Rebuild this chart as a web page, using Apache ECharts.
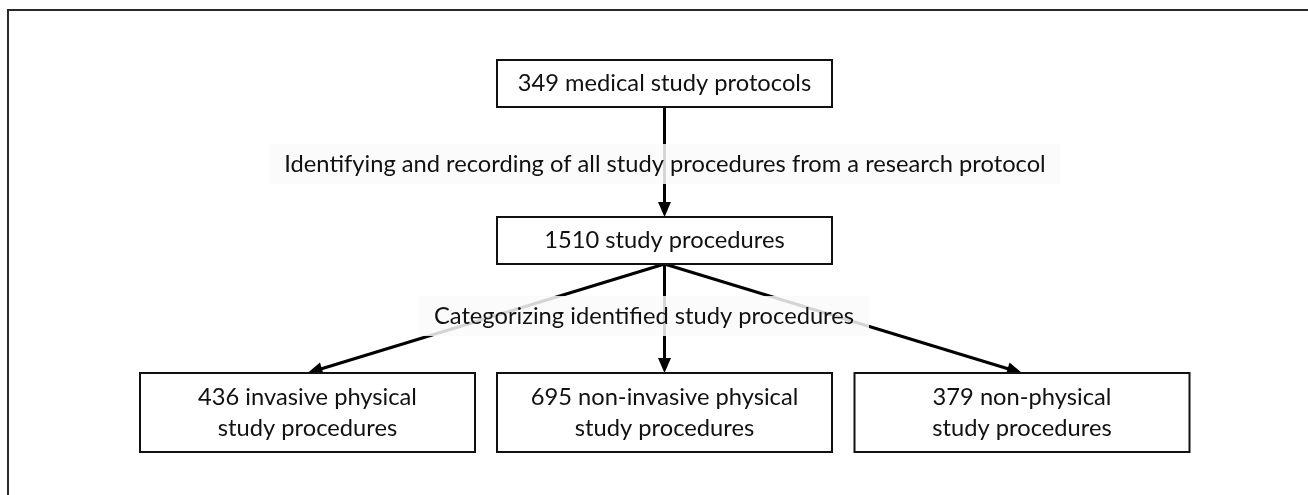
<!DOCTYPE html>
<html lang="en">
	<head>
		<meta charset="UTF-8">
		<title>Study procedures flowchart</title>
		<script src="https://cdn.jsdelivr.net/npm/echarts@6/dist/echarts.min.js"></script>
		<style>
			html, body { margin: 0; padding: 0; background: #fff; }
			#chart { width: 1308px; height: 495px; }
		</style>
	</head>
	<body>
		<div id="chart"></div>
		<script>
			// flowchart content
			var nodeNames = [
				'349 medical study protocols',
				'1510 study procedures',
				'436 invasive physical\nstudy procedures',
				'695 non-invasive physical\nstudy procedures',
				'379 non-physical\nstudy procedures'
			];
			var nodeLevel = [0, 1, 2, 2, 2];
			var nodeCol = [1, 1, 0, 1, 2];
			var edgeFrom = [0, 1, 1, 1];
			var edgeTo = [1, 2, 3, 4];
			var stepNames = [
				'Identifying and recording of all study procedures from a research protocol',
				'Categorizing identified study procedures'
			];

			// layout (page units)
			var colCenter = [307.5, 664.5, 1022];
			var levelTop = [60, 217, 373];
			var levelHeight = [47, 47, 79];
			var boxWidth = 335;
			var stepPos = [[665, 164], [644, 316]];
			var arrowLen = 15, arrowHalf = 6.5;

			var chart = echarts.init(document.getElementById('chart'));

			var boxData = nodeNames.map(function (n, i) {
				return [colCenter[nodeCol[i]], levelTop[nodeLevel[i]], boxWidth, levelHeight[nodeLevel[i]]];
			});

			// edge: bottom centre of source box -> top centre of target box
			var edgeData = edgeFrom.map(function (f, k) {
				var t = edgeTo[k];
				return [
					colCenter[nodeCol[f]], levelTop[nodeLevel[f]] + levelHeight[nodeLevel[f]],
					colCenter[nodeCol[t]], levelTop[nodeLevel[t]]
				];
			});

			var font = '23.7px Lato, "Open Sans", sans-serif';
			var measure = document.createElement('canvas').getContext('2d');
			measure.font = font;

			var option = {
				animation: false,
				grid: { left: 0, right: 0, top: 0, bottom: 0 },
				xAxis: { type: 'value', min: 0, max: 1308, show: false },
				yAxis: { type: 'value', min: 0, max: 495, inverse: true, show: false },
				graphic: [{
					type: 'rect',
					shape: { x: 8, y: 10, width: 1400, height: 600 },
					style: { fill: 'none', stroke: '#2a2a2a', lineWidth: 2 },
					silent: true
				}],
				series: [{
					type: 'custom',
					z: 1,
					clip: false,
					data: edgeData,
					renderItem: function (params, api) {
						var a = api.coord([api.value(0), api.value(1)]);
						var b = api.coord([api.value(2), api.value(3)]);
						var dx = b[0] - a[0], dy = b[1] - a[1], d = Math.sqrt(dx * dx + dy * dy);
						var ux = dx / d, uy = dy / d;
						var bx = b[0] - ux * arrowLen, by = b[1] - uy * arrowLen;
						return {
							type: 'group',
							children: [{
								type: 'line',
								shape: { x1: a[0], y1: a[1], x2: bx + ux * 2, y2: by + uy * 2 },
								style: { stroke: '#000', lineWidth: 3 }
							}, {
								type: 'polygon',
								shape: { points: [
									[b[0], b[1]],
									[bx - uy * arrowHalf, by + ux * arrowHalf],
									[bx + uy * arrowHalf, by - ux * arrowHalf]
								] },
								style: { fill: '#000' }
							}]
						};
					}
				}, {
					type: 'custom',
					z: 3,
					clip: false,
					data: boxData,
					renderItem: function (params, api) {
						var i = params.dataIndex;
						var cx = api.value(0), top = api.value(1), w = api.value(2), h = api.value(3);
						var p0 = api.coord([cx - w / 2, top]);
						var p1 = api.coord([cx + w / 2, top + h]);
						return {
							type: 'rect',
							shape: { x: p0[0], y: p0[1], width: p1[0] - p0[0], height: p1[1] - p0[1] },
							style: { fill: '#fff', stroke: '#111', lineWidth: 2 },
							textContent: {
								style: {
									text: nodeNames[i], font: font, fill: '#111',
									align: 'center', verticalAlign: 'middle', lineHeight: 31
								}
							},
							textConfig: { position: 'inside' }
						};
					}
				}, {
					type: 'custom',
					z: 5,
					clip: false,
					data: stepPos,
					renderItem: function (params, api) {
						var p = api.coord([api.value(0), api.value(1)]);
						var txt = stepNames[params.dataIndex];
						var w = measure.measureText(txt).width + 30;
						return {
							type: 'group',
							children: [{
								type: 'rect',
								shape: { x: p[0] - w / 2, y: p[1] - 20, width: w, height: 40 },
								style: { fill: 'rgba(250,250,250,0.85)' }
							}, {
								type: 'text',
								x: p[0], y: p[1],
								style: {
									text: txt, font: font, fill: '#111',
									align: 'center', verticalAlign: 'middle'
								}
							}]
						};
					}
				}]
			};
			chart.setOption(option);
		</script>
	</body>
</html>
